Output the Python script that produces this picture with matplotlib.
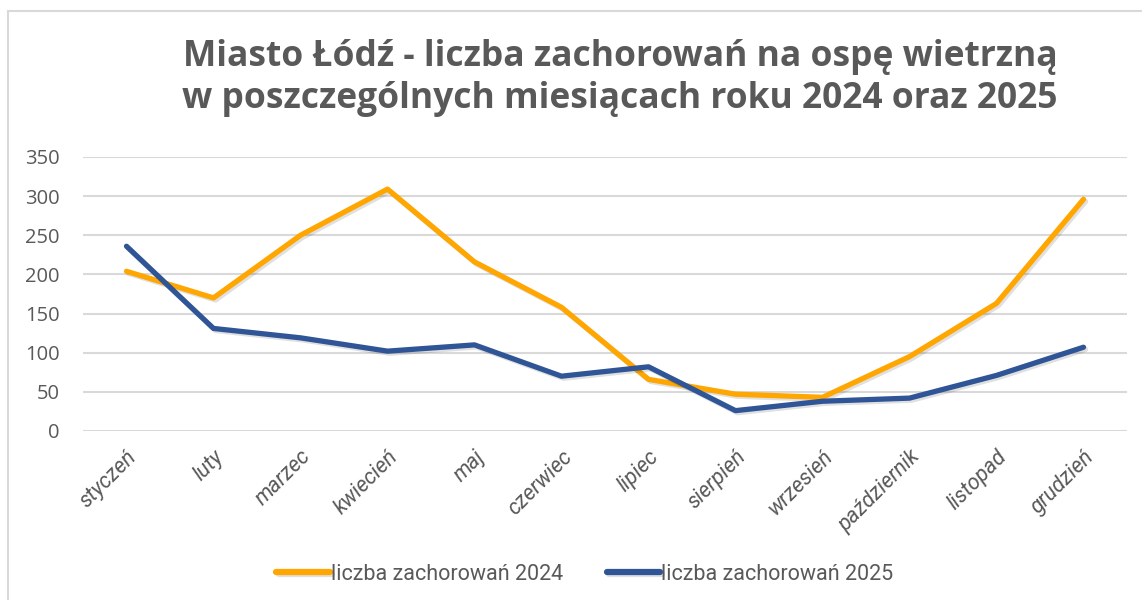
import matplotlib.pyplot as plt
import matplotlib.patheffects as pe
from matplotlib.patches import Rectangle

# dane
miesiace = ["styczeń", "luty", "marzec", "kwiecień", "maj", "czerwiec",
            "lipiec", "sierpień", "wrzesień", "październik", "listopad", "grudzień"]
zach_2024 = [204, 170, 250, 309, 216, 158, 66, 47, 43, 95, 163, 296]
zach_2025 = [236, 131, 119, 102, 110, 70, 82, 26, 38, 42, 71, 107]
yticks = [0, 50, 100, 150, 200, 250, 300, 350]

szary = "#595959"
czcionka = ["Liberation Sans Narrow", "Roboto", "DejaVu Sans"]

fig = plt.figure(figsize=(11.42, 6), dpi=100)
ax = fig.add_axes([83 / 1142, 1 - 431 / 600, (1127 - 83) / 1142, (431 - 157) / 600])

# ramka wykresu
fig.patches.append(Rectangle((8 / 1142, -0.1), 1.2, 1 - 11 / 600 + 0.1,
                             transform=fig.transFigure, fill=False,
                             edgecolor="#D9D9D9", linewidth=1.5))

cien = [pe.SimpleLineShadow(offset=(1.5, -1.5), alpha=0.12, shadow_color="black"), pe.Normal()]
x = range(len(miesiace))
ax.plot(x, zach_2024, color="#FFA600", linewidth=3.8, label="liczba zachorowań 2024",
        solid_capstyle="round", path_effects=cien, zorder=3)
ax.plot(x, zach_2025, color="#2F5597", linewidth=3.8, label="liczba zachorowań 2025",
        solid_capstyle="round", path_effects=cien, zorder=3)

ax.set_xlim(-0.5, 11.5)
ax.set_ylim(0, 350)
ax.set_yticks(yticks)
ax.set_xticks(list(x))
ax.set_xticklabels(miesiace, rotation=45, ha="right", rotation_mode="anchor",
                   fontsize=15.5, color=szary, family=czcionka, style="italic")
ax.tick_params(axis="y", labelsize=14.5, labelcolor=szary, length=0, pad=17)
ax.tick_params(axis="x", length=0, pad=11)
for lab in ax.get_yticklabels():
    lab.set_family(["Open Sans", "DejaVu Sans"])
ax.grid(axis="y", color="#D9D9D9", linewidth=1.5)
ax.set_axisbelow(True)
for s in ax.spines.values():
    s.set_visible(False)

fig.text(620 / 1142, 1 - 57 / 600, "Miasto Łódź - liczba zachorowań na ospę wietrzną",
         ha="center", va="center", fontsize=25.5, fontweight="bold", color=szary,
         family=["Open Sans", "DejaVu Sans"])
fig.text(620 / 1142, 1 - 99 / 600, "w poszczególnych miesiącach roku 2024 oraz 2025",
         ha="center", va="center", fontsize=25.5, fontweight="bold", color=szary,
         family=["Open Sans", "DejaVu Sans"])

leg = fig.legend(loc="center", bbox_to_anchor=(585 / 1142, 1 - 574 / 600), ncol=2,
                 frameon=False, handlelength=2.5, handletextpad=0.05, columnspacing=2.0,
                 prop={"family": czcionka, "size": 15.5})
for t in leg.get_texts():
    t.set_color(szary)
for h in leg.legend_handles:
    h.set_linewidth(4.5)

plt.savefig("out.png", dpi=100)
